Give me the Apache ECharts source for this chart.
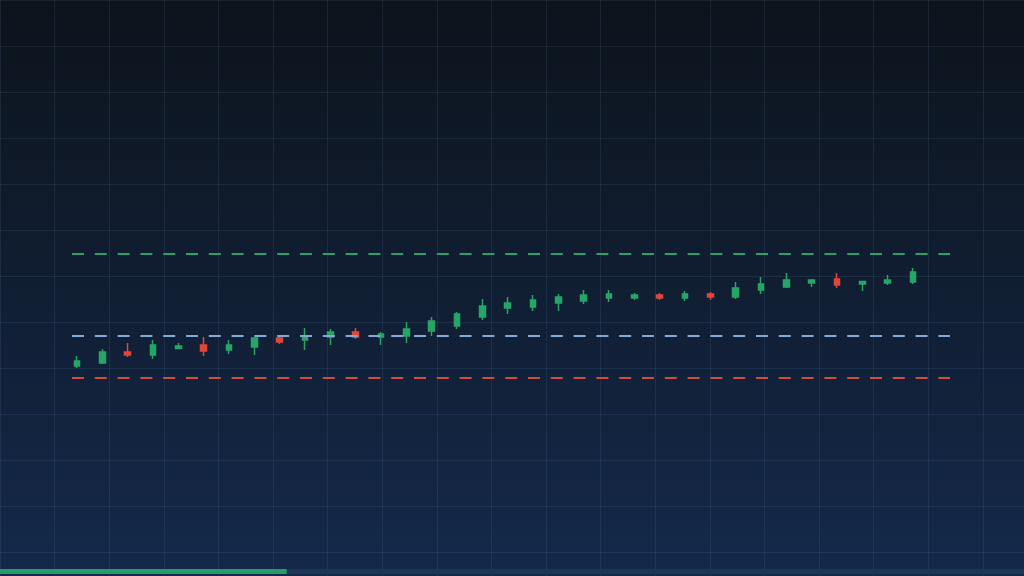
<!DOCTYPE html>
<html>
<head>
<meta charset="utf-8">
<script src="https://cdn.jsdelivr.net/npm/echarts@6/dist/echarts.min.js"></script>
<style>
html,body{margin:0;padding:0;width:1024px;height:576px;overflow:hidden;background:#0e141c;}
#chart{width:1024px;height:576px;}
</style>
</head>
<body>
<div id="chart"></div>
<script>
// Candle data: [open, close, low, high]
const opens  = [98.54,98.68,99.22,99.07,99.39,99.56,99.32,99.46,99.90,99.80,99.95,100.20,99.95,100.00,100.24,100.49,100.93,101.37,101.41,101.61,101.71,101.85,101.85,102.00,101.85,102.05,101.90,102.24,102.39,102.59,102.78,102.54,102.59,102.63];
const closes = [98.78,99.22,99.07,99.56,99.51,99.27,99.56,99.90,99.71,100.00,100.20,99.95,100.10,100.34,100.73,101.07,101.46,101.61,101.76,101.90,102.00,102.05,102.00,101.85,102.05,101.90,102.34,102.54,102.73,102.73,102.49,102.66,102.73,103.12];
const lows   = [98.44,98.63,98.98,98.88,99.37,99.02,99.12,99.07,99.61,99.32,99.56,99.85,99.56,99.66,100.00,100.34,100.78,101.07,101.22,101.22,101.56,101.66,101.76,101.76,101.71,101.76,101.80,102.05,102.34,102.39,102.34,102.20,102.49,102.54];
const highs  = [99.02,99.37,99.66,99.80,99.66,99.95,99.80,99.95,99.95,100.39,100.34,100.39,100.20,100.68,100.93,101.17,101.80,101.90,102.00,102.05,102.24,102.24,102.10,102.10,102.20,102.15,102.63,102.88,103.07,102.78,103.07,102.68,102.98,103.32];

// Reference levels
const targetLevel = 104;
const entryLevel = 100;
const stopLevel = 97.95;

// Replay progress (fraction)
const progress = 0.28;

const candleData = opens.map((o, i) => [i, o, closes[i], lows[i], highs[i]]);

const chart = echarts.init(document.getElementById('chart'));
const gridLine = 'rgba(110,150,195,0.13)';

chart.setOption({
  animation: false,
  backgroundColor: {
    type: 'linear', x: 0, y: 0, x2: 0, y2: 1,
    colorStops: [{offset: 0, color: '#0d131b'}, {offset: 1, color: '#14294a'}]
  },
  grid: [
    {left: 0, right: 0, top: 0, bottom: 0},
    {left: 72, right: 74, top: 8, bottom: 14.5},
    {left: 0, right: 0, bottom: 2, height: 5}
  ],
  xAxis: [
    {gridIndex: 0, type: 'value', min: 0, max: 1024, interval: 54.6, show: true,
     axisLine: {show: false}, axisTick: {show: false}, axisLabel: {show: false},
     splitLine: {show: true, lineStyle: {color: gridLine, width: 1}}},
    {gridIndex: 1, type: 'value', min: -0.2, max: 34.46, show: false, splitLine: {show: false}},
    {gridIndex: 2, type: 'value', min: 0, max: 1, show: false, splitLine: {show: false}}
  ],
  yAxis: [
    {gridIndex: 0, type: 'value', min: 0, max: 576, interval: 46, inverse: true, show: true,
     axisLine: {show: false}, axisTick: {show: false}, axisLabel: {show: false},
     splitLine: {show: true, lineStyle: {color: gridLine, width: 1}}},
    {gridIndex: 1, type: 'value', min: 89, max: 116, show: false, splitLine: {show: false}, scale: true},
    {gridIndex: 2, type: 'category', data: ['progress'], show: false}
  ],
  series: [
    {
      type: 'candlestick',
      xAxisIndex: 1, yAxisIndex: 1,
      data: candleData,
      encode: {x: 0, y: [1, 2, 3, 4]},
      barWidth: 6,
      itemStyle: {
        color: '#27a567', color0: '#e0463a',
        borderColor: '#27a567', borderColor0: '#e0463a',
        borderWidth: 1.5
      },
      markLine: {
        silent: true,
        symbol: ['none', 'none'],
        label: {show: false},
        animation: false,
        data: [
          {yAxis: targetLevel, lineStyle: {color: '#2f9e6b', width: 2, type: [12, 10.8], opacity: 1}},
          {yAxis: entryLevel, lineStyle: {color: '#86a9d3', width: 2, type: [12, 10.8], opacity: 1}},
          {yAxis: stopLevel, lineStyle: {color: '#d24b3c', width: 2, type: [12, 10.8], opacity: 1}}
        ]
      }
    },
    {
      type: 'bar',
      xAxisIndex: 2, yAxisIndex: 2,
      data: [progress],
      barWidth: 5,
      itemStyle: {color: '#289c65'},
      showBackground: true,
      backgroundStyle: {color: '#1c3659'},
      silent: true
    }
  ]
});
</script>
</body>
</html>
